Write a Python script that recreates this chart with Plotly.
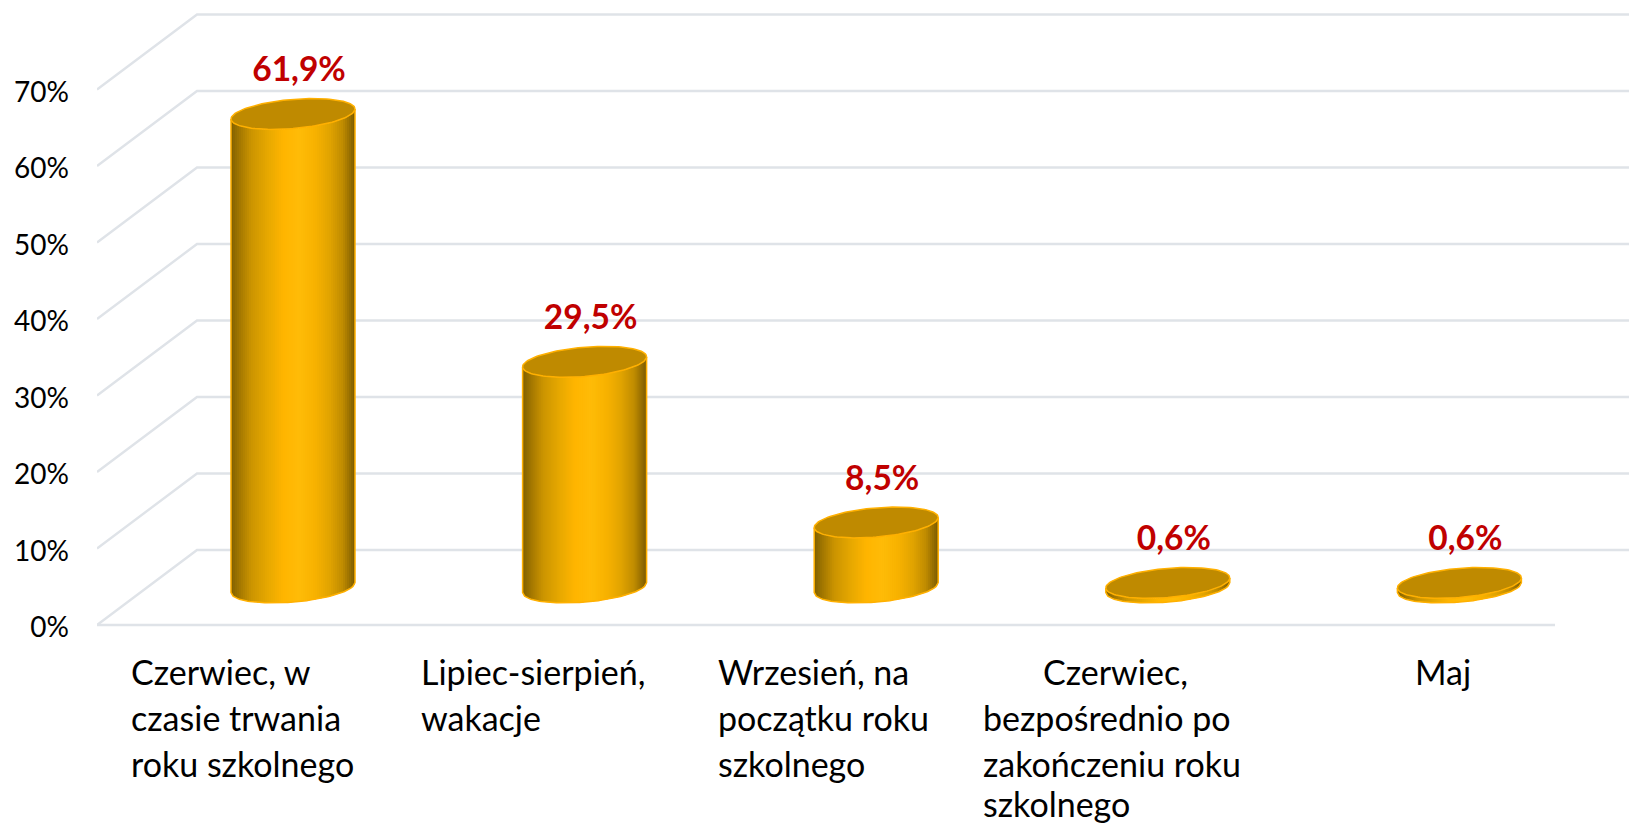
import numpy as np
import plotly.graph_objects as go

# ---- data ----
categories = [
    ["Czerwiec, w", "czasie trwania", "roku szkolnego"],
    ["Lipiec-sierpień,", "wakacje"],
    ["Wrzesień, na", "początku roku", "szkolnego"],
    ["Czerwiec,", "bezpośrednio po", "zakończeniu roku", "szkolnego"],
    ["Maj"],
]
values = [61.9, 29.5, 8.5, 0.6, 0.6]
value_labels = ["61,9%", "29,5%", "8,5%", "0,6%", "0,6%"]
tick_values = [0, 10, 20, 30, 40, 50, 60, 70]
tick_labels = ["0%", "10%", "20%", "30%", "40%", "50%", "60%", "70%"]

# ---- geometry (pixels -> axis units) ----
W, H = 1629, 826
PX_X = 291.6        # pixels per category
PX_Y = 7.65         # pixels per percentage point
X0_PX = 293         # pixel of category 0
Y0_PX = 625         # pixel of value 0 on the front edge
LEFT_PX = 97
DEPTH_X = 50 / PX_X
DEPTH_Y = 37.5 / PX_Y
A = 62 / PX_X
B = 14.6 / PX_Y
S = 5 / PX_Y
FONT = "Lato"

fx = lambda px: (px - X0_PX) / PX_X
GRID = "#DFE3E8"
stops = [(0, "#7F5F00"), (.05, "#9A7200"), (.16, "#CB9400"), (.3, "#E8A900"), (.42, "#FFB500"),
         (.55, "#FFBC08"), (.68, "#F8B200"), (.8, "#E0A300"), (.9, "#C08C00"), (.97, "#906A00"), (1, "#7A5A00")]
stop_pos = [p for p, _ in stops]
stop_rgb = np.array([[int(c[i:i + 2], 16) for i in (1, 3, 5)] for _, c in stops])


def colour(u):
    return "rgb(%d,%d,%d)" % tuple(np.interp(u, stop_pos, stop_rgb[:, k]) for k in range(3))


def front_arc(cx, cy, u0, u1, n=6):
    """Front half of the tilted ellipse between fractions u0..u1 of its width."""
    us = np.linspace(u0, u1, n)
    c = 2 * us - 1
    s = -np.sqrt(np.clip(1 - c ** 2, 0, 1))
    return cx + A * c, cy + B * s + S * c


fig = go.Figure()

# gridlines: side wall and back wall, then the floor's front edge
right_x = fx(1700)
gx, gy = [], []
for v in tick_values:
    gx += [fx(LEFT_PX), fx(LEFT_PX) + 2 * DEPTH_X, right_x, None]
    gy += [v, v + 2 * DEPTH_Y, v + 2 * DEPTH_Y, None]
gx += [fx(LEFT_PX), fx(1555)]
gy += [0, 0]
fig.add_trace(go.Scatter(x=gx, y=gy, mode="lines", line=dict(color=GRID, width=2.4),
                         hoverinfo="skip", showlegend=False))

# cylinders
N = 62
for i, v in enumerate(values):
    base, top = DEPTH_Y, v + DEPTH_Y
    for k in range(N):
        u0, u1 = k / N, min((k + 1.6) / N, 1)
        bx, by = front_arc(i, base, u0, u1)
        tx, ty = front_arc(i, top, u0, u1)
        fig.add_trace(go.Scatter(
            x=np.r_[bx, tx[::-1], bx[0]], y=np.r_[by, ty[::-1], by[0]],
            mode="lines", fill="toself", fillcolor=colour((k + .5) / N),
            line=dict(width=0), hoverinfo="skip", showlegend=False))
    # outline of the side
    ox, oy = front_arc(i, base, 0, 1, 60)
    fig.add_trace(go.Scatter(
        x=np.r_[i - A, ox, i + A], y=np.r_[top - S, oy, top + S],
        mode="lines", line=dict(color="#FFB000", width=1.5),
        hoverinfo="skip", showlegend=False))
    # top ellipse
    t = np.linspace(0, 2 * np.pi, 121)
    fig.add_trace(go.Scatter(
        x=i + A * np.cos(t), y=top + B * np.sin(t) + S * np.cos(t),
        mode="lines", fill="toself", fillcolor="#BF8A00",
        line=dict(color="#FFB000", width=1.5), hoverinfo="skip", showlegend=False))

# value labels
fig.add_trace(go.Scatter(
    x=[i + 6 / PX_X for i in range(len(values))],
    y=[v + DEPTH_Y + 41 / PX_Y for v in values],
    mode="text", text=value_labels, textposition="middle center",
    textfont=dict(family=FONT, size=33.5, color="#C00000", weight="bold"),
    hoverinfo="skip", showlegend=False))

# category labels (one annotation per line, because of their wide leading)
label_left = [129, 419, 716, 981, 1413]
first_line_shift = [0, 0, 0, 60, 0]
LINE_Y = [671, 717, 763, 803]
for left, shift, lines in zip(label_left, first_line_shift, categories):
    for j, line in enumerate(lines):
        fig.add_annotation(
            x=fx(left + (shift if j == 0 else 0)), y=(Y0_PX - LINE_Y[j]) / PX_Y,
            text=line, showarrow=False, xanchor="left", yanchor="middle",
            font=dict(family=FONT, size=34, color="#000000"))

fig.update_layout(
    width=W, height=H, margin=dict(l=0, r=0, t=0, b=0),
    paper_bgcolor="white", plot_bgcolor="white", showlegend=False,
    xaxis=dict(domain=[LEFT_PX / W, 1], range=[fx(LEFT_PX), fx(W)], visible=False, fixedrange=True),
    yaxis=dict(domain=[0, 1], range=[(Y0_PX - H) / PX_Y, Y0_PX / PX_Y],
               tickmode="array", tickvals=[v - 2.2 / PX_Y for v in tick_values], ticktext=tick_labels,
               showgrid=False, zeroline=False, showline=False, ticks="",
               ticklabelstandoff=27, fixedrange=True,
               tickfont=dict(family=FONT, size=28, color="#000000")),
)

fig.write_html("out.html", config={"displayModeBar": False},
               post_script="document.body.style.margin='0';document.documentElement.style.overflow='hidden';")
